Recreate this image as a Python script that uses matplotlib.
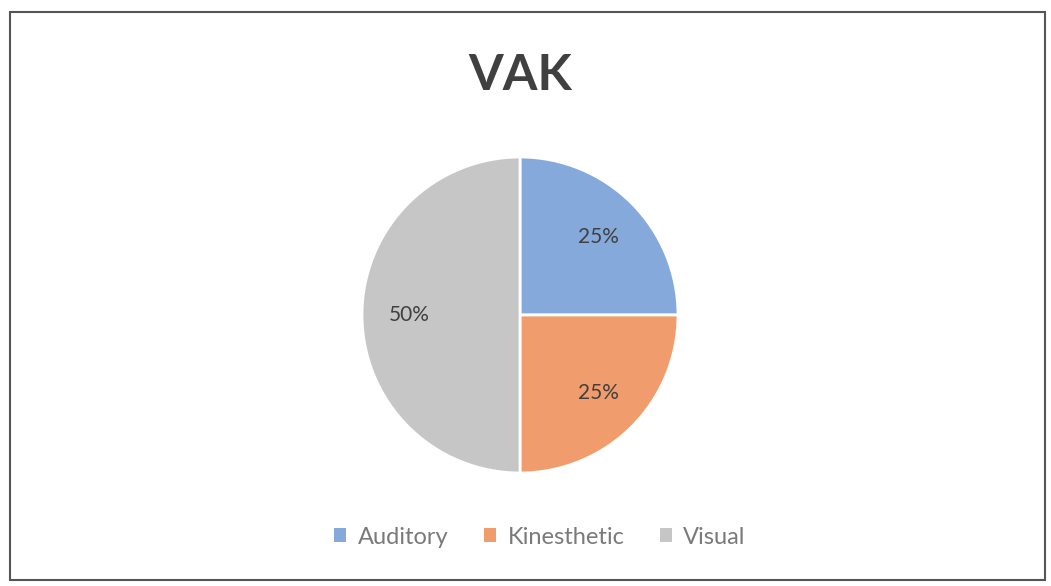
import matplotlib.pyplot as plt
from matplotlib.patches import Rectangle, Patch

labels = ['Auditory', 'Kinesthetic', 'Visual']
values = [25, 25, 50]
colors = ['#86a9dc', '#f09c6c', '#c6c6c6']

plt.rcParams['font.family'] = ['Lato', 'DejaVu Sans']

W, H = 1051, 586
fig = plt.figure(figsize=(W / 100, H / 100), dpi=100)

# outer border
fig.patches.append(Rectangle((10 / W, 1 - 580 / H), 1035 / W, 568 / H,
                             transform=fig.transFigure, fill=False,
                             edgecolor='#555555', linewidth=1.5))

r = 158
cx, cy = 520, 315
ax = fig.add_axes([(cx - r) / W, (H - cy - r) / H, 2 * r / W, 2 * r / H])
wedges, texts, autotexts = ax.pie(values, colors=colors, startangle=90,
                                  counterclock=False, autopct='%d%%',
                                  pctdistance=0.7,
                                  wedgeprops=dict(edgecolor='white', linewidth=2),
                                  textprops=dict(fontsize=15, color='#404040'))
ax.set_xlim(-1, 1)
ax.set_ylim(-1, 1)
ax.set_aspect('equal')

fig.text(cx / W, 1 - 75 / H, 'VAK', ha='center', va='center',
         fontsize=36, fontweight='bold', color='#404040')

handles = [Patch(facecolor=c, edgecolor='none') for c in colors]
fig.legend(handles, labels, loc='center', bbox_to_anchor=(540 / W, 1 - 537 / H),
           ncol=3, frameon=False, fontsize=17, labelcolor='#7a7a7a',
           handlelength=0.5, handleheight=0.5, handletextpad=0.5,
           columnspacing=1.5)

fig.savefig('out.png', dpi=100)
